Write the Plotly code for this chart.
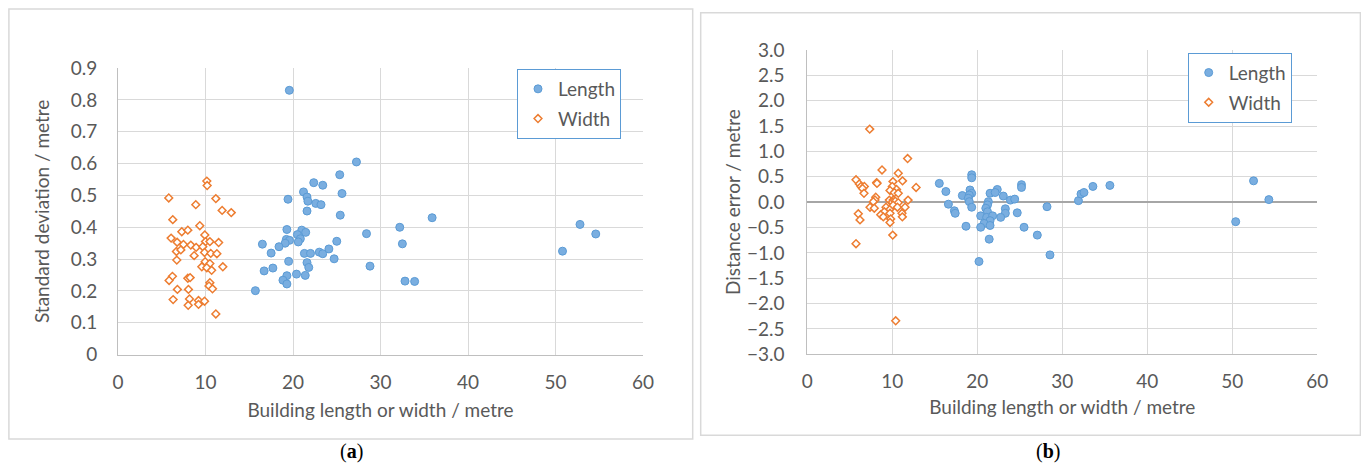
import plotly.graph_objects as go

# the page body has an 8 px margin, so the figure is drawn 8 px in from the window edge
OFF = 8
W, H = 1369 - 2 * OFF, 471 - 2 * OFF

# ---- Panel (a): standard deviation ----
a_len_x = [19.58, 27.25, 25.34, 22.37, 23.4, 21.2, 21.6, 21.7, 25.6, 19.43, 22.6, 23.2, 21.6, 25.4,
           19.3, 21.0, 21.45, 20.5, 20.84, 19.24, 19.6, 19.1, 20.6, 18.4, 16.5, 17.5, 21.3, 22.0,
           23.0, 23.4, 24.1, 25.0, 28.4, 24.7, 19.5, 21.6, 21.8, 16.7, 17.7, 20.4, 21.4, 19.3,
           18.85, 19.3, 15.7, 28.8, 32.2, 32.5, 35.9, 32.8, 33.9, 50.8, 52.8, 54.6]
a_len_y = [0.830, 0.605, 0.565, 0.540, 0.532, 0.511, 0.495, 0.482, 0.506, 0.488, 0.475, 0.471, 0.451, 0.438,
           0.393, 0.391, 0.384, 0.377, 0.364, 0.362, 0.359, 0.350, 0.354, 0.339, 0.347, 0.319, 0.318, 0.318,
           0.322, 0.317, 0.332, 0.356, 0.380, 0.301, 0.293, 0.289, 0.274, 0.263, 0.272, 0.253, 0.249, 0.248,
           0.234, 0.222, 0.201, 0.278, 0.400, 0.348, 0.430, 0.231, 0.230, 0.325, 0.409, 0.379]
a_wid_x = [5.80, 10.15, 10.19, 11.18, 8.89, 11.9, 12.94, 6.26, 9.35, 7.29, 7.98, 6.07, 6.76, 7.48,
           8.32, 8.93, 9.92, 10.0, 10.5, 9.69, 11.5, 6.68, 7.18, 8.70, 9.89, 10.6, 11.3, 6.72, 9.96,
           10.5, 9.58, 10.15, 10.7, 11.98, 6.22, 5.84, 7.98, 8.24, 10.5, 10.4, 10.8, 6.79, 8.05, 6.30,
           8.17, 8.02, 9.20, 9.20, 9.89, 11.18]
a_wid_y = [0.492, 0.545, 0.531, 0.490, 0.471, 0.453, 0.446, 0.424, 0.405, 0.386, 0.391, 0.366, 0.353, 0.346,
           0.344, 0.337, 0.376, 0.355, 0.355, 0.339, 0.352, 0.324, 0.329, 0.311, 0.321, 0.318, 0.317, 0.297, 0.292,
           0.286, 0.276, 0.273, 0.265, 0.276, 0.246, 0.233, 0.240, 0.242, 0.226, 0.216, 0.207, 0.205, 0.205, 0.173,
           0.175, 0.155, 0.170, 0.158, 0.168, 0.128]

# ---- Panel (b): distance error ----
b_len_x = [19.34, 19.34, 15.53, 16.3, 18.24, 19.14, 19.34, 19.06, 18.94, 19.06, 19.34, 16.6, 17.3, 17.4,
           18.67, 21.5, 22.35, 22.1, 23.06, 21.3, 21.2, 21.0, 21.2, 20.4, 21.1, 21.8, 21.5, 20.8, 21.5,
           20.4, 21.4, 20.2, 23.9, 24.4, 23.3, 23.3, 22.75, 24.7, 25.2, 25.2, 25.5, 27.06, 28.2, 28.55,
           31.9, 32.2, 32.55, 33.6, 35.6, 50.4, 52.5, 54.3]
b_len_y = [0.54, 0.48, 0.37, 0.21, 0.13, 0.24, 0.175, 0.14, 0.077, 0.01, -0.10, -0.04, -0.17, -0.22,
           -0.475, 0.175, 0.25, 0.19, 0.12, 0.01, -0.055, -0.12, -0.19, -0.27, -0.30, -0.27, -0.365, -0.42, -0.46,
           -0.495, -0.73, -1.17, 0.04, 0.06, -0.13, -0.22, -0.30, -0.21, 0.345, 0.29, -0.495, -0.65, -0.09, -1.04,
           0.03, 0.16, 0.19, 0.31, 0.33, -0.385, 0.42, 0.05]
b_wid_x = [7.34, 11.8, 8.79, 10.7, 5.73, 6.12, 6.32, 6.71, 6.5, 6.67, 8.16, 8.2, 10.08, 11.2, 12.8,
           10.0, 10.5, 9.73, 10.24, 10.7, 8.05, 7.96, 7.77, 9.65, 10.1, 10.0, 10.35, 11.85, 10.7, 7.38,
           7.88, 9.26, 9.73, 10.1, 10.6, 11.5, 9.06, 8.64, 8.94, 9.73, 11.14, 11.18, 6.0, 6.2, 9.81, 9.73,
           10.05, 5.73, 10.4]
b_wid_y = [1.44, 0.86, 0.635, 0.57, 0.44, 0.36, 0.31, 0.31, 0.27, 0.175, 0.385, 0.37, 0.405, 0.42, 0.29,
           0.31, 0.25, 0.23, 0.19, 0.175, 0.097, 0.043, 0.01, 0.04, 0.04, 0.0, 0.02, 0.04, -0.01, -0.10,
           -0.12, -0.10, -0.14, -0.06, -0.10, -0.10, -0.19, -0.25, -0.29, -0.22, -0.22, -0.29, -0.23, -0.35, -0.33, -0.40,
           -0.65, -0.82, -2.34]

x_ticks = [0, 10, 20, 30, 40, 50, 60]
series_names = ["Length", "Width"]
x_title = "Building length or width / metre"
ya_title = "Standard deviation / metre"
yb_title = "Distance error / metre"

BLUE = "#5b9bd5"
ORANGE = "#ed7d31"
TXT = "#595959"
GRID = "#d9d9d9"
FONT = "Lato"
FS = 19

def px_x(p):
    return min(max((p - OFF) / W, 0), 1)

def px_y(p):
    return min(max(1 - (p - OFF) / H, 0), 1)

fig = go.Figure()

len_marker = dict(symbol="circle", size=8, color="#7aaee0", line=dict(color=BLUE, width=1))
wid_marker = dict(symbol="diamond", size=6, color="white", line=dict(color=ORANGE, width=1.5))

fig.add_trace(go.Scatter(x=a_len_x, y=a_len_y, mode="markers", name=series_names[0], marker=len_marker,
                         xaxis="x", yaxis="y", legend="legend", legendgroup="aL"))
fig.add_trace(go.Scatter(x=a_wid_x, y=a_wid_y, mode="markers", name=series_names[1], marker=wid_marker,
                         xaxis="x", yaxis="y", legend="legend", legendgroup="aW"))
fig.add_trace(go.Scatter(x=b_len_x, y=b_len_y, mode="markers", name=series_names[0], marker=len_marker,
                         xaxis="x2", yaxis="y2", legend="legend2", legendgroup="bL"))
fig.add_trace(go.Scatter(x=b_wid_x, y=b_wid_y, mode="markers", name=series_names[1], marker=wid_marker,
                         xaxis="x2", yaxis="y2", legend="legend2", legendgroup="bW"))

axis_common = dict(showgrid=True, gridcolor=GRID, gridwidth=1, showline=True, linecolor="#bfbfbf",
                   linewidth=1, ticks="", tickfont=dict(family=FONT, size=FS, color=TXT),
                   title_font=dict(family=FONT, size=FS, color=TXT), fixedrange=True, automargin=False)

fig.update_layout(
    width=W, height=H, margin=dict(l=0, r=0, t=0, b=0),
    paper_bgcolor="white", plot_bgcolor="white", showlegend=True,
    font=dict(family=FONT, color=TXT),
    xaxis=dict(domain=[px_x(118), px_x(643)], range=[0, 60], tickvals=x_ticks, anchor="y", zeroline=False,
               title=dict(text=x_title, standoff=12), ticklabelstandoff=10, **axis_common),
    yaxis=dict(domain=[px_y(354.7), px_y(68)], range=[0, 0.9], dtick=0.1, anchor="x", zeroline=False,
               title=dict(text=ya_title, standoff=16), ticklabelstandoff=16, **axis_common),
    xaxis2=dict(domain=[px_x(807.3), px_x(1317.3)], range=[0, 60], tickvals=x_ticks, anchor="y2", zeroline=False,
                title=dict(text=x_title, standoff=9), ticklabelstandoff=10, **axis_common),
    yaxis2=dict(domain=[px_y(354.3), px_y(50)], range=[-3, 3], dtick=0.5, tickformat=".1f", anchor="x2",
                zeroline=True, zerolinecolor="#a6a6a6", zerolinewidth=1.5,
                title=dict(text=yb_title, standoff=1), ticklabelstandoff=18, **axis_common),
    legend=dict(x=px_x(621), y=px_y(69), xanchor="right", yanchor="top", bordercolor=BLUE, borderwidth=1,
                bgcolor="white", font=dict(family=FONT, size=FS, color=TXT), tracegroupgap=2,
                itemclick=False, itemdoubleclick=False, itemwidth=30),
    legend2=dict(x=px_x(1291.7), y=px_y(52.7), xanchor="right", yanchor="top", bordercolor=BLUE, borderwidth=1,
                 bgcolor="white", font=dict(family=FONT, size=FS, color=TXT), tracegroupgap=2,
                 itemclick=False, itemdoubleclick=False, itemwidth=30),
)

# panel frames
fig.add_shape(type="rect", xref="paper", yref="paper", x0=px_x(8.9), x1=px_x(692.7), y0=px_y(439), y1=px_y(8.9),
              line=dict(color="#d9d9d9", width=1.5), layer="below")
fig.add_shape(type="rect", xref="paper", yref="paper", x0=px_x(700.7), x1=px_x(1366) - 0.6 / W, y0=px_y(435.3),
              y1=px_y(12.7), line=dict(color="#d9d9d9", width=1.5), layer="below")

# panel labels
for lab, cx in [("a", 351), ("b", 1048)]:
    fig.add_annotation(xref="paper", yref="paper", x=px_x(cx), y=px_y(451), text=f"(<b>{lab}</b>)",
                       showarrow=False, font=dict(family="Liberation Serif", size=20, color="black"),
                       xanchor="center", yanchor="middle")

fig.write_html("out.html")
